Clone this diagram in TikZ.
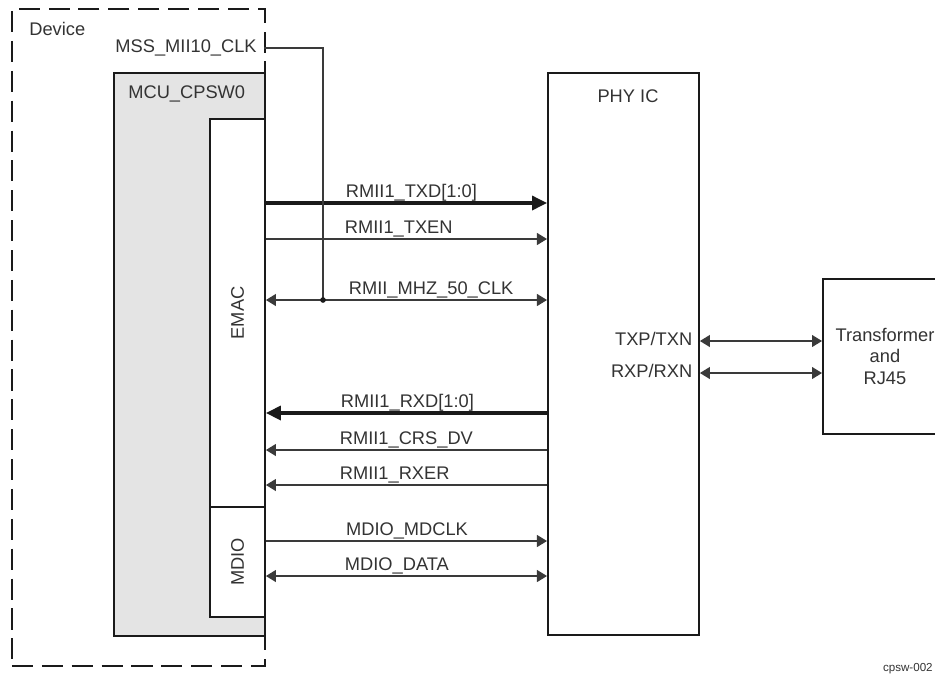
\documentclass[tikz,border=0pt]{standalone}
\usepackage{fontspec}
\setmainfont{Liberation Sans}
\usetikzlibrary{arrows.meta,positioning,calc}
\definecolor{ink}{HTML}{1A1A1A}
\definecolor{label}{HTML}{333333}
\definecolor{wire}{HTML}{3A3A3A}
\definecolor{cpswgray}{HTML}{E4E4E4}

\begin{document}
\begin{tikzpicture}[
    x=0.02cm, y=-0.02cm,
    font=\fontsize{10.4}{12.5}\selectfont,
    every node/.style={text=label},
    box/.style={
        rectangle, draw=ink, line width=1.1pt,
        fill=white, anchor=north west, inner sep=0pt,
    },
    devbox/.style={box, fill=none, dash pattern=on 12pt off 5pt},
    cpswbox/.style={box, fill=cpswgray},
    boxlabel/.style={anchor=base west, inner sep=0pt},
    sig/.style={line width=0.7pt, draw=wire},
    bus/.style={line width=1.8pt, draw=ink},
    tx/.style={-{Triangle[length=5.7pt,width=6.8pt]}},
    rx/.style={{Triangle[length=5.7pt,width=6.8pt]}-},
    txrx/.style={{Triangle[length=5.7pt,width=6.8pt]}-{Triangle[length=5.7pt,width=6.8pt]}},
    bustx/.style={-{Triangle[length=8.5pt,width=8pt]}},
    busrx/.style={{Triangle[length=8.5pt,width=8pt]}-},
    siglabel/.style={anchor=base west, inner sep=0pt, yshift=3.4pt},
    pinlabel/.style={anchor=mid east, inner sep=4pt},
]

\useasboundingbox (0,0) rectangle (935,677);

% =============================================================
% DEVICE SIDE
% =============================================================
\node[devbox, minimum width=5.06cm, minimum height=13.14cm] (device) at (11,8) {};
\node[boxlabel] at (29,35) {Device};

\node[cpswbox, minimum width=3.02cm, minimum height=11.26cm] (mcu) at (113,72) {};
\node[boxlabel] at (128,98) {MCU\_CPSW0};

\node[box, minimum width=1.10cm, minimum height=7.76cm] (emac) at (209,118) {};
\node[rotate=90] at (emac.center) {EMAC};

\node[box, minimum width=1.10cm, minimum height=2.20cm] (mdio) at (209,506) {};
\node[rotate=90] at (mdio.center) {MDIO};

% Clock input
\node[pinlabel] (mssclk) at (264,48) {MSS\_MII10\_CLK};
\coordinate (clkjoin) at (323,300);

% =============================================================
% PHY AND MAGNETICS
% =============================================================
\node[box, minimum width=3.02cm, minimum height=11.24cm] (phy) at (547,72) {};
\node[anchor=base] at (628,102) {PHY IC};

\node[box, minimum width=2.48cm, minimum height=3.10cm, align=center] (xfmr) at (822,278) {};
\node[align=center] at (xfmr.center) {Transformer\\and\\RJ45};

% =============================================================
% RMII SIGNALS
% =============================================================
\draw[bus, bustx] (emac.east |- 0,203) -- node[siglabel, pos=0.279] {RMII1\_TXD[1:0]} (phy.west |- 0,203);
\draw[sig, tx] (emac.east |- 0,239) -- node[siglabel, pos=0.279] {RMII1\_TXEN} (phy.west |- 0,239);
\draw[sig, txrx] (emac.east |- 0,300) -- node[siglabel, pos=0.293] {RMII\_MHZ\_50\_CLK} (phy.west |- 0,300);

\draw[bus, busrx] (emac.east |- 0,413) -- node[siglabel, pos=0.261] {RMII1\_RXD[1:0]} (phy.west |- 0,413);
\draw[sig, rx] (emac.east |- 0,450) -- node[siglabel, pos=0.261] {RMII1\_CRS\_DV} (phy.west |- 0,450);
\draw[sig, rx] (emac.east |- 0,485) -- node[siglabel, pos=0.261] {RMII1\_RXER} (phy.west |- 0,485);

% MDIO
\draw[sig, tx] (mdio.east |- 0,541) -- node[siglabel, pos=0.283] {MDIO\_MDCLK} (phy.west |- 0,541);
\draw[sig, txrx] (mdio.east |- 0,576) -- node[siglabel, pos=0.279] {MDIO\_DATA} (phy.west |- 0,576);

% Clock tap onto the 50 MHz reference
\draw[sig, line width=0.6pt] (mssclk.mid east) -| (clkjoin);
\fill[ink] (clkjoin) circle (1.6pt);

% Line side
\draw[sig, txrx] (phy.east |- 0,341) -- node[pinlabel, pos=0] {TXP/TXN} (xfmr.west |- 0,341);
\draw[sig, txrx] (phy.east |- 0,373) -- node[pinlabel, pos=0] {RXP/RXN} (xfmr.west |- 0,373);

\node[anchor=base east, inner sep=0pt, font=\fontsize{6.6}{8}\selectfont] (figid) at (933,671) {cpsw-002};

\end{tikzpicture}
\end{document}
